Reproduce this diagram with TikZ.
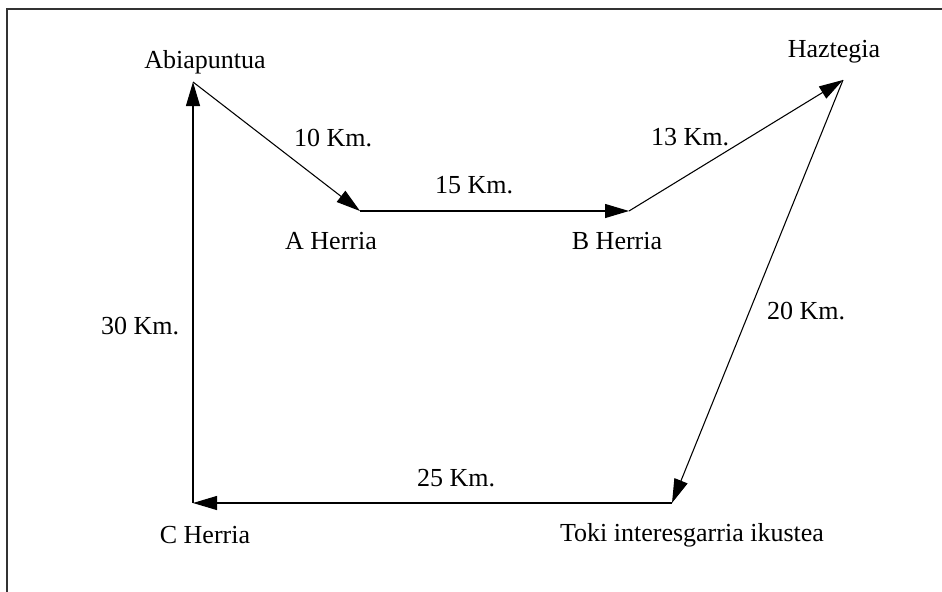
\documentclass[tikz,border=0pt]{standalone}
\usepackage{fontspec}
\setmainfont{Liberation Serif}
\usetikzlibrary{arrows.meta}

\begin{document}
\begin{tikzpicture}[
  x=0.75pt, y=-0.75pt,
  every node/.style={font=\fontsize{19.5}{23}\selectfont},
  place/.style={inner sep=0pt, anchor=center},
  dist/.style={inner sep=0pt, anchor=center},
  arr/.style={-{Triangle[length=18pt, width=10.5pt]}, line width=0.8pt},
  frame/.style={line width=1.1pt, black!80},
]
\useasboundingbox (0,0) rectangle (942,592);

% ── frame (only left and top edges show)
\draw[frame] (7,592) -- (7,9) -- (942,9);

% ── POINTS ──
\coordinate (abia)   at (193, 82);
\coordinate (aher)   at (360,211);
\coordinate (bher)   at (629,211);
\coordinate (hazt)   at (843, 80);
\coordinate (toki)   at (672,503);
\coordinate (cher)   at (193,503);

% ── PLACE NAMES ──
\node[place] at (205, 62) (abiatxt) {Abiapuntua};
\node[place] at (331,241) (ahertxt) {A Herria};
\node[place] at (617,241) (bhertxt) {B Herria};
\node[place] at (834, 52) (hazttxt) {Haztegia};
\node[place] at (692,535) (tokitxt) {Toki interesgarria ikustea};
\node[place] at (205,535) (chertxt) {C Herria};

% ── DISTANCES ──
\node[dist] at (333,138) (d10) {10 Km.};
\node[dist] at (474,185) (d15) {15 Km.};
\node[dist] at (690,137) (d13) {13 Km.};
\node[dist] at (806,311) (d20) {20 Km.};
\node[dist] at (456,478) (d25) {25 Km.};
\node[dist] at (140,326) (d30) {30 Km.};

%% ══════════════════ ARROWS ══════════════════
\draw[arr] (abia) -- (aher);
\draw[arr] (aher) -- (bher);
\draw[arr] (bher) -- (hazt);
\draw[arr] (hazt) -- (toki);
\draw[arr] (toki) -- (cher);
\draw[arr] (cher) -- (abia);

\end{tikzpicture}
\end{document}
